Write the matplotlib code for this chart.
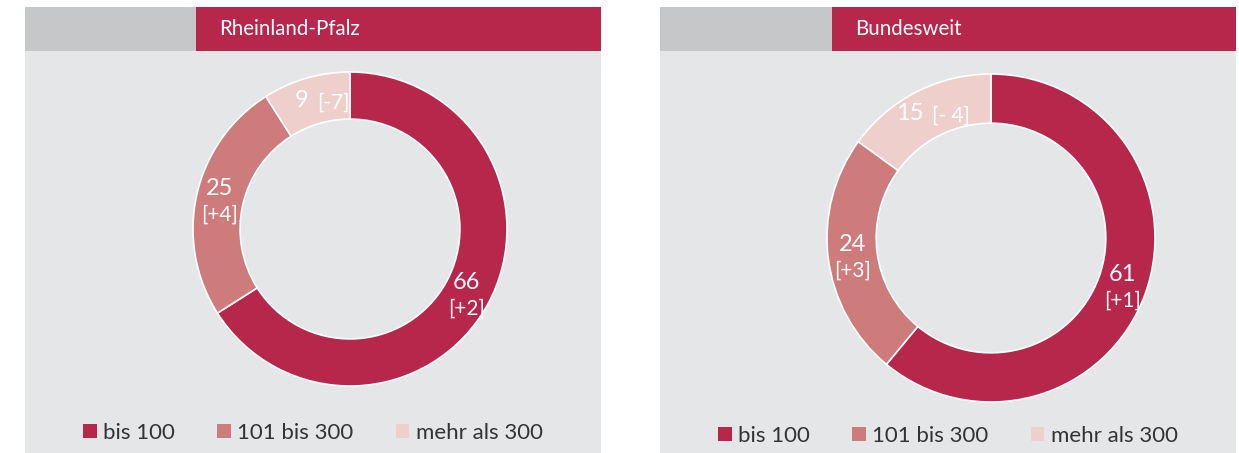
import matplotlib.pyplot as plt
from matplotlib.patches import Rectangle, Patch
import numpy as np

plt.rcParams['font.family'] = ['Lato', 'DejaVu Sans']

# data
categories = ["bis 100", "101 bis 300", "mehr als 300"]
titles = ["Rheinland-Pfalz", "Bundesweit"]
rlp_values = [66, 25, 9]
rlp_changes = ["+2", "+4", "-7"]
bund_values = [61, 24, 15]
bund_changes = ["+1", "+3", "- 4"]

colors = ["#B7264B", "#CD7B7B", "#EECFCB"]
bg = "#E5E6E8"
head_grey = "#C6C7C9"

W, H = 1239, 453
fig = plt.figure(figsize=(W / 100, H / 100), dpi=100)
fig.patch.set_facecolor("white")


def fx(x):
    return x / W


def fy(y):
    return 1 - y / H


# pixel layout of the two panels
panels = [
    dict(x0=25, x1=601, split=196, cx=350, cy=229, r=157, legy=433,
         values=rlp_values, changes=rlp_changes, title=titles[0]),
    dict(x0=660, x1=1236, split=832, cx=991, cy=238, r=164, legy=436,
         values=bund_values, changes=bund_changes, title=titles[1]),
]
inline = [False, False, True]

for p in panels:
    # panel background + header (behind the axes)
    fig.add_artist(Rectangle((fx(p["x0"]), 0), (p["x1"] - p["x0"]) / W, fy(51),
                             transform=fig.transFigure, color=bg, lw=0, zorder=-10))
    fig.add_artist(Rectangle((fx(p["x0"]), fy(51)), (p["split"] - p["x0"]) / W, 44 / H,
                             transform=fig.transFigure, color=head_grey, lw=0, zorder=-10))
    fig.add_artist(Rectangle((fx(p["split"]), fy(51)), (p["x1"] - p["split"]) / W, 44 / H,
                             transform=fig.transFigure, color=colors[0], lw=0, zorder=-10))
    fig.text(fx(p["split"] + 23), fy(29), p["title"], color="white",
             fontsize=14.8, ha="left", va="center")

    r = p["r"]
    ax = fig.add_axes([fx(p["cx"] - r), fy(p["cy"] + r), 2 * r / W, 2 * r / H])
    ax.patch.set_visible(False)
    wedges, _ = ax.pie(p["values"], colors=colors, startangle=90, counterclock=False,
                       radius=1, wedgeprops=dict(width=0.3, edgecolor="white", linewidth=1.2))
    ax.set_xlim(-1.0, 1.0)
    ax.set_ylim(-1.0, 1.0)
    ax.axis("off")

    for w, v, c, inl in zip(wedges, p["values"], p["changes"], inline):
        ang = np.deg2rad((w.theta1 + w.theta2) / 2)
        x, y = 0.85 * np.cos(ang), 0.85 * np.sin(ang)
        if inl:
            ax.annotate(str(v), (x, y), xytext=(-3, 0), textcoords="offset points",
                        ha="right", va="center", fontsize=17, color="white")
            ax.annotate(f"[{c}]", (x, y), xytext=(3, -1), textcoords="offset points",
                        ha="left", va="center", fontsize=15, color="white")
        else:
            ax.annotate(str(v), (x, y), xytext=(0, 8), textcoords="offset points",
                        ha="center", va="center", fontsize=17, color="white")
            ax.annotate(f"[{c}]", (x, y), xytext=(0, -11), textcoords="offset points",
                        ha="center", va="center", fontsize=15, color="white")

    handles = [Patch(facecolor=c, edgecolor="none") for c in colors]
    fig.legend(handles, categories, loc="center",
               bbox_to_anchor=(fx((p["x0"] + p["x1"]) / 2), fy(p["legy"])),
               ncol=3, frameon=False, fontsize=16, handlelength=0.6, handleheight=0.6,
               handletextpad=0.3, columnspacing=1.9, labelcolor="#333333")

fig.savefig("out.png", dpi=100, facecolor=fig.get_facecolor())
